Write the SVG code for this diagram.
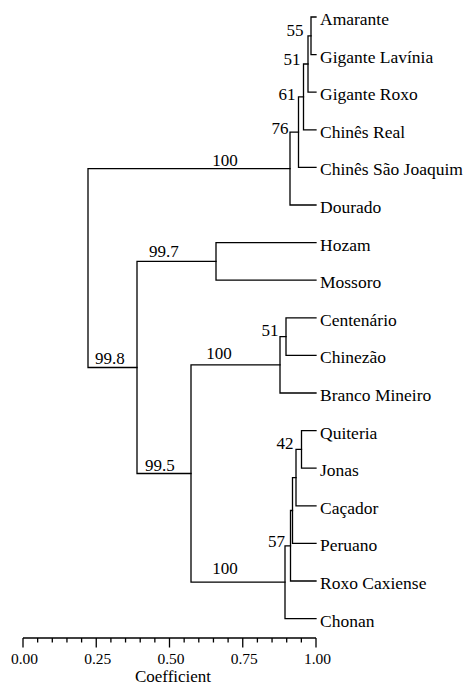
<svg xmlns="http://www.w3.org/2000/svg" width="469" height="686" viewBox="0 0 469 686" font-family="'Liberation Serif', 'Times New Roman', serif">
  <style>
    .br { fill: none; stroke: #000; stroke-width: 1.3; stroke-linecap: square; }
    .ax { fill: none; stroke: #000; stroke-width: 1.3; }
    text { font-family: 'Liberation Serif', 'Times New Roman', serif; fill: #000; }
    .lf { text-anchor: start; font-size: 17.5px; }
    .bs { text-anchor: end; font-size: 17px; }
    .bl { text-anchor: start; font-size: 17px; }
    .bm { text-anchor: middle; font-size: 17px; }
    .tk { text-anchor: middle; font-size: 15.5px; }
    .ttl { text-anchor: middle; font-size: 17px; }
  </style>
  <rect width="469" height="686" fill="#fff"/>

  <!-- dendrogram branches: each path = child -> node vertical -> child -->
  <g id="connectors">
    <!-- upper cluster -->
    <path class="br" d="M316 17 H311 V54.6 H316"/>
    <path class="br" d="M311 35.8 H308 V92.2 H316"/>
    <path class="br" d="M308 64 H303.5 V129.8 H316"/>
    <path class="br" d="M303.5 96.9 H298.5 V167.4 H316"/>
    <path class="br" d="M298.5 132.2 H290 V205 H316"/>
    <!-- root -->
    <path class="br" d="M290 168.6 H88 V367.5 H137"/>
    <path class="br" d="M216 261.4 H137 V473.5 H191"/>
    <!-- Hozam / Mossoro -->
    <path class="br" d="M316 242.6 H216 V280.2 H316"/>
    <!-- Centenário group -->
    <path class="br" d="M316 317.8 H286 V355.4 H316"/>
    <path class="br" d="M286 336.6 H280 V393 H316"/>
    <path class="br" d="M280 364.8 H191 V582.2 H285"/>
    <!-- lower cluster -->
    <path class="br" d="M316 430.6 H301.5 V468.2 H316"/>
    <path class="br" d="M301.5 449.4 H296 V505.8 H316"/>
    <path class="br" d="M296 477.6 H292.5 V543.4 H316"/>
    <path class="br" d="M292.5 510.5 H290.5 V581 H316"/>
    <path class="br" d="M290.5 545.8 H285 V618.6 H316"/>
  </g>

  <!-- leaves -->
  <g id="leaf-amarante"><text class="lf" x="320" y="25">Amarante</text></g>
  <g id="leaf-gigante-lavinia"><text class="lf" x="320" y="62.6">Gigante Lavínia</text></g>
  <g id="leaf-gigante-roxo"><text class="lf" x="320" y="100.2">Gigante Roxo</text></g>
  <g id="leaf-chines-real"><text class="lf" x="320" y="137.8">Chinês Real</text></g>
  <g id="leaf-chines-sao-joaquim"><text class="lf" x="320" y="175.4">Chinês São Joaquim</text></g>
  <g id="leaf-dourado"><text class="lf" x="320" y="213">Dourado</text></g>
  <g id="leaf-hozam"><text class="lf" x="320" y="250.6">Hozam</text></g>
  <g id="leaf-mossoro"><text class="lf" x="320" y="288.2">Mossoro</text></g>
  <g id="leaf-centenario"><text class="lf" x="320" y="325.8">Centenário</text></g>
  <g id="leaf-chinezao"><text class="lf" x="320" y="363.4">Chinezão</text></g>
  <g id="leaf-branco-mineiro"><text class="lf" x="320" y="401">Branco Mineiro</text></g>
  <g id="leaf-quiteria"><text class="lf" x="320" y="438.6">Quiteria</text></g>
  <g id="leaf-jonas"><text class="lf" x="320" y="476.2">Jonas</text></g>
  <g id="leaf-cacador"><text class="lf" x="320" y="513.8">Caçador</text></g>
  <g id="leaf-peruano"><text class="lf" x="320" y="551.4">Peruano</text></g>
  <g id="leaf-roxo-caxiense"><text class="lf" x="320" y="589">Roxo Caxiense</text></g>
  <g id="leaf-chonan"><text class="lf" x="320" y="626.6">Chonan</text></g>

  <!-- bootstrap support values -->
  <g id="node-55"><text class="bs" x="303.5" y="35.5">55</text></g>
  <g id="node-51a"><text class="bs" x="300.5" y="65">51</text></g>
  <g id="node-61"><text class="bs" x="295.5" y="99.5">61</text></g>
  <g id="node-76"><text class="bs" x="288.5" y="134">76</text></g>
  <g id="node-100a"><text class="bm" x="225" y="166">100</text></g>
  <g id="node-99-7"><text class="bl" x="149" y="257">99.7</text></g>
  <g id="node-99-8"><text class="bl" x="95" y="364">99.8</text></g>
  <g id="node-51b"><text class="bs" x="278.5" y="335.5">51</text></g>
  <g id="node-100b"><text class="bm" x="219" y="359">100</text></g>
  <g id="node-42"><text class="bs" x="293.5" y="448.5">42</text></g>
  <g id="node-99-5"><text class="bl" x="145" y="470.5">99.5</text></g>
  <g id="node-57"><text class="bs" x="285" y="546.5">57</text></g>
  <g id="node-100c"><text class="bm" x="225" y="574">100</text></g>

  <!-- coefficient scale -->
  <g id="axis">
    <path class="ax" d="M23 638 H316"/>
    <path class="ax" d="M23 638 V647.5 M96.25 638 V647.5 M169.5 638 V647.5 M242.75 638 V647.5 M316 638 V647.5"/>
    <path class="ax" d="M37.65 638 V642.5 M52.3 638 V642.5 M66.95 638 V642.5 M81.6 638 V642.5
                        M110.9 638 V642.5 M125.55 638 V642.5 M140.2 638 V642.5 M154.85 638 V642.5
                        M184.15 638 V642.5 M198.8 638 V642.5 M213.45 638 V642.5 M228.1 638 V642.5
                        M257.4 638 V642.5 M272.05 638 V642.5 M286.7 638 V642.5 M301.35 638 V642.5"/>
    <text class="tk" x="24.5" y="663.5">0.00</text>
    <text class="tk" x="97.75" y="663.5">0.25</text>
    <text class="tk" x="171" y="663.5">0.50</text>
    <text class="tk" x="244.25" y="663.5">0.75</text>
    <text class="tk" x="317.5" y="663.5">1.00</text>
    <text class="ttl" x="173" y="682">Coefficient</text>
  </g>
</svg>
